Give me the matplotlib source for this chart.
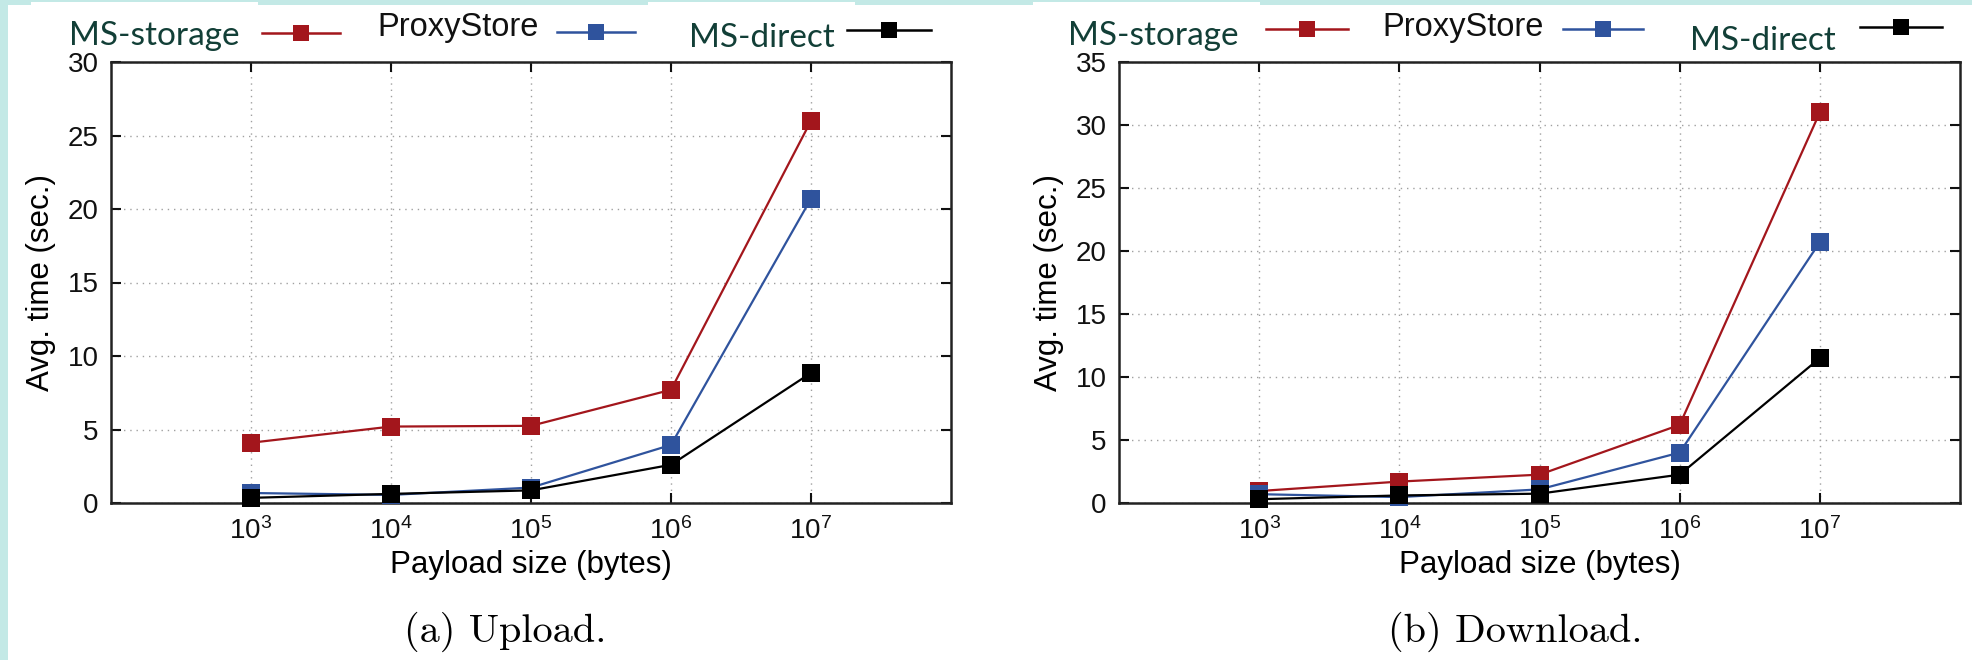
import matplotlib
matplotlib.use("Agg")
import matplotlib.pyplot as plt
from matplotlib.lines import Line2D
from matplotlib.patches import Rectangle

# ---------------- data ----------------
payload_sizes = [1e3, 1e4, 1e5, 1e6, 1e7]
x_tick_labels = ["$10^{3}$", "$10^{4}$", "$10^{5}$", "$10^{6}$", "$10^{7}$"]

upload_ms_storage = [4.1, 5.2, 5.25, 7.7, 26.0]
upload_proxystore = [0.68, 0.55, 1.05, 3.95, 20.7]
upload_ms_direct = [0.35, 0.62, 0.86, 2.6, 8.85]

download_ms_storage = [0.95, 1.7, 2.25, 6.2, 31.0]
download_proxystore = [0.7, 0.47, 1.08, 4.0, 20.7]
download_ms_direct = [0.3, 0.6, 0.74, 2.25, 11.5]

series_names = ["MS-storage", "ProxyStore", "MS-direct"]
series_colors = ["#a3161c", "#2f539d", "#000000"]

panels = [
    ("(a) Upload.", [upload_ms_storage, upload_proxystore, upload_ms_direct], 30),
    ("(b) Download.", [download_ms_storage, download_proxystore, download_ms_direct], 35),
]

# ---------------- style ----------------
plt.rcParams["font.family"] = ["Liberation Sans", "DejaVu Sans"]
plt.rcParams["mathtext.default"] = "regular"

W, H = 1972, 660
fig = plt.figure(figsize=(W / 100, H / 100), dpi=100)
fig.patch.set_facecolor("white")


def fx(px):
    return px / W


def fy(py):
    return 1 - py / H


teal = "#c3e9e6"
# decorative border of the screenshot
fig.patches.append(Rectangle((0, 0), fx(8), 1, transform=fig.transFigure,
                             facecolor=teal, edgecolor="none", zorder=0))
fig.patches.append(Rectangle((0, fy(5)), 1, 5 / H, transform=fig.transFigure,
                             facecolor=teal, edgecolor="none", zorder=0))
for x0, x1 in [(31, 258), (648, 855), (1033, 1260)]:
    fig.patches.append(Rectangle((fx(x0), fy(5)), fx(x1 - x0), 3 / H,
                                 transform=fig.transFigure,
                                 facecolor="white", edgecolor="none", zorder=0))

axes_px = [(111, 951), (1119, 1960)]
top_px, bot_px = 62, 503

caption_centers = [505, 1515]

for (caption, series, ymax), (xl, xr), cc in zip(panels, axes_px, caption_centers):
    ax = fig.add_axes([fx(xl), fy(bot_px), fx(xr - xl), (bot_px - top_px) / H])
    ax.set_xscale("log")
    ax.set_xlim(1e2, 1e8)
    ax.set_ylim(0, ymax)
    for vals, color, name in zip(series, series_colors, series_names):
        ax.plot(payload_sizes, vals, color=color, lw=1.6, marker="s",
                markersize=13, markeredgewidth=0, label=name, zorder=3,
                clip_on=False)
    ax.set_xticks(payload_sizes)
    ax.set_xticklabels(x_tick_labels)
    ax.minorticks_off()
    ax.set_yticks(range(0, ymax + 1, 5))
    ax.grid(True, which="major", linestyle=(0, (1, 3.5)), color="#a0a0a0", lw=1.0)
    ax.tick_params(direction="in", length=7, width=1.5, labelsize=20,
                   top=True, right=True, pad=9, colors="#111111")
    ax.tick_params(axis="x", pad=10)
    for sp in ax.spines.values():
        sp.set_linewidth(1.8)
        sp.set_color("#222222")
    ax.set_xlabel("Payload size (bytes)", fontsize=22.5, labelpad=4)
    ax.set_ylabel("Avg. time (sec.)", fontsize=22.5, labelpad=8)
    fig.text(fx(cc), fy(632), caption, ha="center", va="center",
             fontsize=29, family="cmr10")

# ---------------- legends (above each panel) ----------------
label_color = "#123f37"
legend_layout = [
    # (text_x, baseline_y, sample_x0, sample_x1, sample_y) for each series, per panel
    [(69, 45, 262, 340, 33), (377, 36, 557, 635, 32), (689, 47, 847, 931, 30)],
    [(1068, 45, 1266, 1348, 29), (1382, 36, 1563, 1643, 29), (1690, 50, 1860, 1942, 27)],
]
for panel_layout in legend_layout:
    for (tx, ty, sx0, sx1, sy), name, color in zip(panel_layout, series_names, series_colors):
        if name == "ProxyStore":
            fig.text(fx(tx), fy(ty), name, ha="left", va="baseline",
                     fontsize=23.5, color="#111111", family="Liberation Sans")
        else:
            fig.text(fx(tx), fy(ty), name, ha="left", va="baseline",
                     fontsize=24, color=label_color, family="Lato")
        fig.lines.append(Line2D([fx(sx0), fx(sx1)], [fy(sy), fy(sy)],
                                transform=fig.transFigure, color=color, lw=1.8))
        fig.lines.append(Line2D([fx((sx0 + sx1) / 2)], [fy(sy)],
                                transform=fig.transFigure, color=color,
                                marker="s", markersize=12, markeredgewidth=0))

fig.savefig("out.png", dpi=100, facecolor="white")
